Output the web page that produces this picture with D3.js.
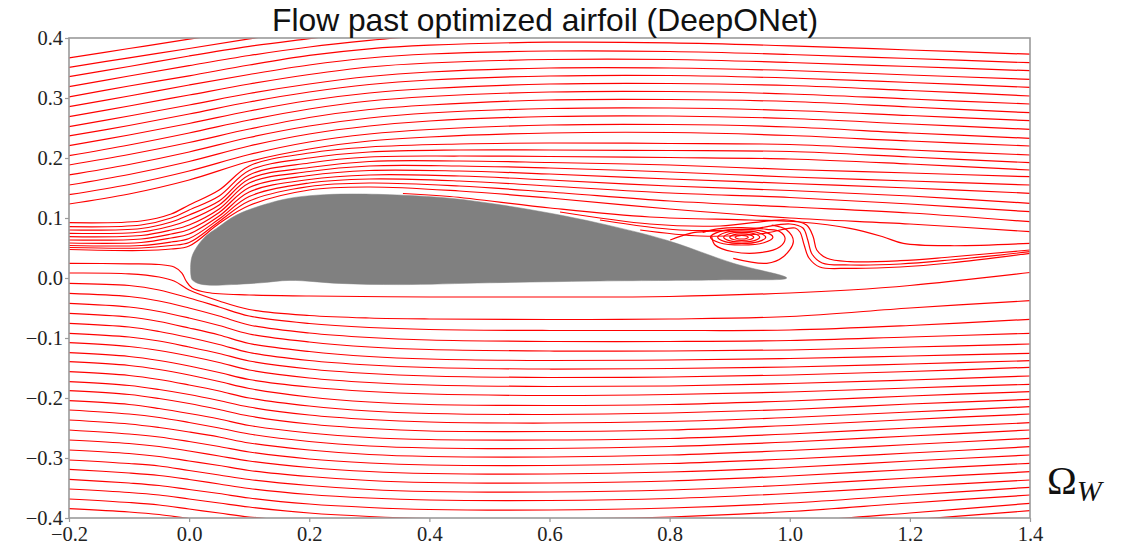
<!DOCTYPE html>
<html><head><meta charset="utf-8">
<script src="https://cdn.jsdelivr.net/npm/d3@7"></script>
<style>html,body{margin:0;padding:0;background:#fff}</style>
</head><body><svg id="chart" width="1126" height="544"></svg>
<script>
const titleText = "Flow past optimized airfoil (DeepONet)";
const xTicks = [-0.2, 0.0, 0.2, 0.4, 0.6, 0.8, 1.0, 1.2, 1.4];
const yTicks = [-0.4, -0.3, -0.2, -0.1, 0.0, 0.1, 0.2, 0.3, 0.4];

// upper streamlines, y at farX stations
const farX = [-0.2, -0.1, 0.0, 0.1, 0.2, 0.3, 0.4, 0.6, 0.8, 1.0, 1.2, 1.4];
const upperLinesY = [
  [0.367, 0.3825, 0.398, 0.414],
  [0.351, 0.367, 0.3825, 0.3985, 0.415],
  [0.3355, 0.3525, 0.370, 0.386, 0.399, 0.4117],
  [0.319, 0.3367, 0.354, 0.3708, 0.385, 0.396, 0.405],
  [0.302, 0.320, 0.337, 0.355, 0.371, 0.382, 0.388, 0.393, 0.392, 0.387, 0.380, 0.373],
  [0.2855, 0.3033, 0.3217, 0.3392, 0.355, 0.3667, 0.3733, 0.3783, 0.3775, 0.3725, 0.3658, 0.3588],
  [0.269, 0.2867, 0.305, 0.3233, 0.3392, 0.3517, 0.3583, 0.3642, 0.3642, 0.3592, 0.3525, 0.3455],
  [0.2522, 0.27, 0.2883, 0.3075, 0.3233, 0.3358, 0.3433, 0.35, 0.35, 0.3458, 0.3383, 0.3312],
  [0.2367, 0.2542, 0.2733, 0.2933, 0.31, 0.3225, 0.33, 0.3367, 0.3375, 0.3333, 0.3258, 0.3178],
  [0.2205, 0.2383, 0.2575, 0.2783, 0.2958, 0.3083, 0.3158, 0.3233, 0.3242, 0.3208, 0.3125, 0.3033],
  [0.2038, 0.2217, 0.2417, 0.2633, 0.2817, 0.295, 0.3025, 0.31, 0.3108, 0.3067, 0.2983, 0.29],
  [0.1883, 0.2058, 0.2258, 0.2483, 0.2675, 0.2808, 0.2883, 0.2967, 0.2975, 0.2942, 0.285, 0.2755],
  [0.1717, 0.1892, 0.21, 0.2342, 0.2533, 0.2667, 0.275, 0.2825, 0.2833, 0.2792, 0.2708, 0.2622],
  [0.155, 0.1725, 0.1942, 0.22, 0.24, 0.2533, 0.2617, 0.2692, 0.27, 0.2658, 0.2567, 0.2478],
  [0.1388, 0.1558, 0.1783, 0.2058, 0.2267, 0.24, 0.2475, 0.255, 0.2558, 0.2517, 0.2417, 0.2328],
  [0.1233, 0.14, 0.1633, 0.1942, 0.215, 0.2283, 0.235, 0.2417, 0.2425, 0.2375, 0.2283, 0.22]
];

// streamlines wrapping over the leading edge, y at nearX stations
const nearX = [-0.2, -0.08, -0.03, 0.0, 0.05, 0.1, 0.2, 0.3, 0.45, 0.6, 0.8, 1.0, 1.2, 1.4];
const bunchLinesY = [
  [0.0922, 0.095, 0.1067, 0.1217, 0.1467, 0.1867, 0.2083, 0.2183, 0.2233, 0.225, 0.2242, 0.2225, 0.2133, 0.205],
  [0.0855, 0.0883, 0.1, 0.1133, 0.1367, 0.1792, 0.2, 0.21, 0.2133, 0.2133, 0.2125, 0.2108, 0.2017, 0.1922],
  [0.08, 0.0825, 0.0933, 0.105, 0.1283, 0.1717, 0.1917, 0.2017, 0.2033, 0.2025, 0.2008, 0.1983, 0.19, 0.18],
  [0.0745, 0.0767, 0.0867, 0.0967, 0.1217, 0.165, 0.1842, 0.1942, 0.195, 0.1925, 0.1883, 0.1808, 0.175, 0.1688],
  [0.0688, 0.0708, 0.08, 0.0883, 0.115, 0.1583, 0.1775, 0.1867, 0.1867, 0.1833, 0.1767, 0.1683, 0.1617, 0.155],
  [0.0633, 0.065, 0.0733, 0.0808, 0.1092, 0.1508, 0.1708, 0.1792, 0.1783, 0.1733, 0.165, 0.1575, 0.15, 0.1412],
  [0.0583, 0.0592, 0.0667, 0.0733, 0.1033, 0.1433, 0.1642, 0.1717, 0.17, 0.1633, 0.1533, 0.1458, 0.1367, 0.1245],
  [0.0542, 0.0542, 0.06, 0.0658, 0.0983, 0.1358, 0.1583, 0.165, 0.1617, 0.1533, 0.1417, 0.1342, 0.1233, 0.1105],
  [0.0508, 0.05, 0.0542, 0.0592, 0.0942, 0.1283, 0.1525, 0.1583, 0.1533, 0.1433, 0.1283, 0.1183, 0.1083, 0.0938],
  [0.0475, 0.0458, 0.0483, 0.0533, 0.0908, 0.1208, 0.1467, 0.1517, 0.145, 0.1333, 0.115, 0.1, 0.09, 0.0772]
];

// lower streamlines, y at lowerX stations
const lowerX = [-0.2, -0.1, -0.05, 0.0, 0.05, 0.1, 0.2, 0.3, 0.4, 0.6, 0.8, 1.0, 1.2, 1.4];
const lowerLinesY = [
  [-0.0088, -0.0125, -0.02, -0.0333, -0.0483, -0.0633, -0.0758, -0.0825, -0.0858, -0.0875, -0.0875, -0.0867, -0.0792, -0.0688],
  [-0.0255, -0.0308, -0.0383, -0.05, -0.0633, -0.0783, -0.0917, -0.0992, -0.1033, -0.1058, -0.1058, -0.1042, -0.0983, -0.0922],
  [-0.0422, -0.0483, -0.0558, -0.0667, -0.0792, -0.0933, -0.1067, -0.115, -0.1192, -0.1217, -0.1217, -0.12, -0.115, -0.11],
  [-0.0588, -0.065, -0.0725, -0.0833, -0.095, -0.1092, -0.1225, -0.1308, -0.135, -0.1375, -0.1367, -0.1342, -0.13, -0.1255],
  [-0.0755, -0.0817, -0.0892, -0.0992, -0.1108, -0.1242, -0.1375, -0.145, -0.1492, -0.1517, -0.1508, -0.1483, -0.1433, -0.1378],
  [-0.0922, -0.0983, -0.105, -0.115, -0.1258, -0.1383, -0.1517, -0.1592, -0.1633, -0.1658, -0.165, -0.1617, -0.1558, -0.1488],
  [-0.1078, -0.1142, -0.1208, -0.13, -0.1408, -0.1533, -0.1667, -0.1742, -0.1783, -0.1808, -0.18, -0.1758, -0.17, -0.1633],
  [-0.1245, -0.1308, -0.1375, -0.1467, -0.1575, -0.1692, -0.1817, -0.1892, -0.1933, -0.1958, -0.1942, -0.19, -0.1833, -0.1772],
  [-0.1395, -0.1458, -0.1525, -0.1617, -0.1725, -0.1842, -0.1983, -0.2067, -0.2108, -0.2125, -0.2108, -0.205, -0.1967, -0.1895],
  [-0.1562, -0.1625, -0.1692, -0.1783, -0.1883, -0.2, -0.2133, -0.2217, -0.2258, -0.2275, -0.225, -0.2192, -0.21, -0.2022],
  [-0.1728, -0.1792, -0.1858, -0.1942, -0.2042, -0.215, -0.2283, -0.2358, -0.24, -0.2417, -0.2392, -0.2325, -0.2233, -0.2145],
  [-0.1878, -0.1942, -0.2008, -0.2092, -0.2192, -0.23, -0.2433, -0.2508, -0.255, -0.2558, -0.2533, -0.2458, -0.2358, -0.2267],
  [-0.2045, -0.2108, -0.2175, -0.2258, -0.235, -0.2458, -0.2583, -0.2658, -0.2692, -0.27, -0.2675, -0.26, -0.25, -0.2412],
  [-0.22, -0.2267, -0.2325, -0.2408, -0.25, -0.26, -0.2725, -0.28, -0.2833, -0.2842, -0.2808, -0.2733, -0.2633, -0.2533],
  [-0.2367, -0.2433, -0.2492, -0.2567, -0.265, -0.275, -0.2867, -0.2942, -0.2975, -0.2983, -0.295, -0.2875, -0.2775, -0.2672],
  [-0.2533, -0.26, -0.265, -0.2725, -0.2808, -0.29, -0.3017, -0.3083, -0.3117, -0.3125, -0.3092, -0.3017, -0.2917, -0.2812],
  [-0.27, -0.2758, -0.2808, -0.2883, -0.2967, -0.305, -0.3158, -0.3225, -0.3258, -0.3267, -0.3233, -0.3158, -0.305, -0.295],
  [-0.2867, -0.2925, -0.2975, -0.305, -0.3125, -0.3208, -0.3308, -0.3375, -0.3408, -0.3417, -0.3383, -0.33, -0.3192, -0.3088],
  [-0.3033, -0.3092, -0.3133, -0.3208, -0.3283, -0.3358, -0.3458, -0.3525, -0.3558, -0.3567, -0.3533, -0.345, -0.3333, -0.3228],
  [-0.3188, -0.325, -0.3292, -0.3358, -0.3433, -0.3508, -0.3608, -0.3667, -0.37, -0.3708, -0.3675, -0.3592, -0.3475, -0.3367],
  [-0.3355, -0.3417, -0.3458, -0.3525, -0.3592, -0.3667, -0.3767, -0.3825, -0.3858, -0.3867, -0.3833, -0.375, -0.3617, -0.3488],
  [-0.3517, -0.3575, -0.3617, -0.3683, -0.375, -0.3817, -0.3917, -0.3975, -0.4008, -0.4017, -0.3983, -0.3892, -0.375, -0.3617],
  [-0.3683, -0.3742, -0.3783, -0.385, -0.3917, -0.3983, -0.4067, -0.4133, -0.4183, -0.42, -0.4167, -0.4067, -0.3917, -0.3755],
  [-0.3845, -0.39, -0.3942, -0.4008, -0.4067, -0.4133, -0.4217, -0.4283, -0.4333, -0.435, -0.4317, -0.42, -0.4033, -0.3878]
];

// streamlines passing the stagnation point and hugging the lower surface
const stagnationLines = [
  [[-0.2,0.0245],[-0.1,0.0237],[-0.05,0.0225],[-0.025,0.0183],[-0.012,0.0083],[-0.005,-0.005],[0.005,-0.0167],[0.03,-0.0242],[0.1,-0.0283],[0.2,-0.03],[0.4,-0.0317],[0.6,-0.0317],[0.8,-0.0308],[1.0,-0.025],[1.1,-0.02],[1.2,-0.0125],[1.4,0.0092]],
  [[-0.2,0.0083],[-0.1,0.007],[-0.05,0.0017],[-0.025,-0.005],[0.0,-0.02],[0.05,-0.0383],[0.1,-0.0525],[0.2,-0.0625],[0.3,-0.0667],[0.4,-0.0683],[0.6,-0.0692],[0.8,-0.0683],[1.0,-0.0642],[1.2,-0.05],[1.4,-0.0378]]
];

// separated flow and wake streamlines
const wakeLines = [
  [[0.356,0.1408],[0.434,0.1358],[0.601,0.1167],[0.767,0.1017],[0.934,0.0967],[1.017,0.0933],[1.100,0.0828],[1.155,0.0688],[1.189,0.0578],[1.267,0.0538],[1.4,0.0578]],
  [[0.6175,0.11],[0.767,0.09],[0.884,0.0867],[0.995,0.0967],[1.028,0.0883],[1.039,0.0688],[1.045,0.0467],[1.062,0.0328],[1.100,0.0272],[1.184,0.0288],[1.267,0.035],[1.4,0.0467]],
  [[0.684,0.0967],[0.817,0.08],[0.934,0.0817],[1.0005,0.09],[1.022,0.0833],[1.030,0.0633],[1.037,0.04],[1.054,0.025],[1.100,0.0217],[1.184,0.0233],[1.267,0.03],[1.4,0.0438]],
  [[0.751,0.08],[0.851,0.07],[0.9505,0.0733],[1.009,0.0833],[1.017,0.0767],[1.024,0.055],[1.032,0.0333],[1.050,0.0183],[1.100,0.0162],[1.184,0.0183],[1.267,0.025],[1.4,0.0412]],
  [[0.870,0.0688],[0.8756,0.055],[0.9056,0.0438],[0.9505,0.0422],[0.9838,0.0522],[0.9922,0.0662],[0.9838,0.0772],[0.9617,0.0812],[0.92,0.084],[0.88,0.082],[0.855,0.076]],
  [[0.801,0.0633],[0.834,0.0745],[0.867,0.078],[0.90,0.079]],
  [[0.906,0.0328],[0.9617,0.0245],[0.9893,0.0355],[1.006,0.0605],[0.995,0.080],[0.97,0.088]]
];

// closed rings of the recirculation vortex
const vortexLoops = [
  [[0.972,0.068],[0.957,0.0772],[0.92,0.081],[0.883,0.0772],[0.868,0.068],[0.883,0.0588],[0.92,0.055],[0.957,0.0588]],
  [[0.96,0.068],[0.948,0.0754],[0.92,0.0785],[0.892,0.0754],[0.88,0.068],[0.892,0.0606],[0.92,0.0575],[0.948,0.0606]],
  [[0.95,0.068],[0.941,0.0737],[0.92,0.076],[0.899,0.0737],[0.89,0.068],[0.899,0.0623],[0.92,0.06],[0.941,0.0623]],
  [[0.94,0.068],[0.934,0.0719],[0.92,0.0735],[0.906,0.0719],[0.90,0.068],[0.906,0.0641],[0.92,0.0625],[0.934,0.0641]],
  [[0.931,0.068],[0.9278,0.0701],[0.92,0.071],[0.9122,0.0701],[0.909,0.068],[0.9122,0.0659],[0.92,0.065],[0.9278,0.0659]]
];

// airfoil outline (upper surface LE->TE, lower surface TE->LE)
const airfoilOutline = [
  [0.003,0.004],[0.004,0.033],[0.013,0.052],[0.028,0.07],[0.046,0.083],[0.079,0.105],[0.124,0.122],[0.168,0.133],
  [0.212,0.138],[0.268,0.14],[0.356,0.138],[0.434,0.133],[0.518,0.122],[0.601,0.108],[0.684,0.091],[0.795,0.063],
  [0.906,0.0245],[0.995,0.0],[0.9,-0.003],[0.684,-0.005],[0.5,-0.008],[0.351,-0.011],[0.25,-0.009],[0.168,-0.004],
  [0.12,-0.008],[0.07,-0.011],[0.035,-0.012],[0.015,-0.009],[0.005,-0.003]
];

const svg = d3.select("#chart");
const x = d3.scaleLinear().domain([-0.2, 1.4]).range([69, 1030]);
const y = d3.scaleLinear().domain([-0.4, 0.4]).range([518, 38]);

svg.append("defs").append("clipPath").attr("id","plotclip")
  .append("rect").attr("x",69).attr("y",38).attr("width",961).attr("height",480);

const plot = svg.append("g").attr("clip-path","url(#plotclip)");
const lineXY = d3.line().x(d=>x(d[0])).y(d=>y(d[1])).curve(d3.curveCatmullRom.alpha(0.5));
const loopXY = d3.line().x(d=>x(d[0])).y(d=>y(d[1])).curve(d3.curveCatmullRomClosed.alpha(0.5));
const red = "#ff0000", sw = 1.2;

function drawStations(xs, rows){
  rows.forEach(r=>{
    const pts = r.map((v,i)=>[xs[i], v]);
    plot.append("path").attr("d", lineXY(pts)).attr("fill","none").attr("stroke",red).attr("stroke-width",sw);
  });
}
drawStations(farX, upperLinesY);
drawStations(nearX, bunchLinesY);
drawStations(lowerX, lowerLinesY);
stagnationLines.concat(wakeLines).forEach(p=>{
  plot.append("path").attr("d", lineXY(p)).attr("fill","none").attr("stroke",red).attr("stroke-width",sw);
});
vortexLoops.forEach(p=>{
  plot.append("path").attr("d", loopXY(p)).attr("fill","none").attr("stroke",red).attr("stroke-width",sw);
});

plot.append("path")
  .attr("d", loopXY(airfoilOutline))
  .attr("fill","#808080").attr("stroke","#808080").attr("stroke-width",0.5);

// frame
svg.append("rect").attr("x",69).attr("y",38).attr("width",961).attr("height",480)
  .attr("fill","none").attr("stroke","#9a9a9a").attr("stroke-width",1.6);

const fmt = v => d3.format(".1f")(v);
const xAxis = svg.append("g").attr("transform","translate(0,518)")
  .call(d3.axisBottom(x).tickValues(xTicks).tickFormat(fmt).tickSize(4).tickSizeOuter(0));
const yAxis = svg.append("g").attr("transform","translate(69,0)")
  .call(d3.axisLeft(y).tickValues(yTicks).tickFormat(fmt).tickSize(4).tickSizeOuter(0));
[xAxis, yAxis].forEach(a=>{
  a.select(".domain").remove();
  a.selectAll(".tick line").attr("stroke","#9a9a9a").attr("stroke-width",1.2);
  a.selectAll(".tick text").attr("fill","#222").style("font-family","'Liberation Serif', serif").style("font-size","20.5px");
});
xAxis.selectAll(".tick text").attr("y",9).attr("dy","0.68em");
yAxis.selectAll(".tick text").attr("x",-6).attr("dy","0.3em");

svg.append("text").attr("x",545).attr("y",31).attr("text-anchor","middle")
  .style("font-family","'Liberation Sans', Arial, sans-serif").style("font-size","31.8px").attr("fill","#111")
  .text(titleText);

const om = svg.append("text").attr("x",1047).attr("y",494)
  .style("font-family","'Liberation Serif', serif").attr("fill","#111");
om.append("tspan").style("font-size","40px").text("Ω");
om.append("tspan").style("font-size","30px").style("font-style","italic").attr("dy",7).text("W");
</script></body></html>
